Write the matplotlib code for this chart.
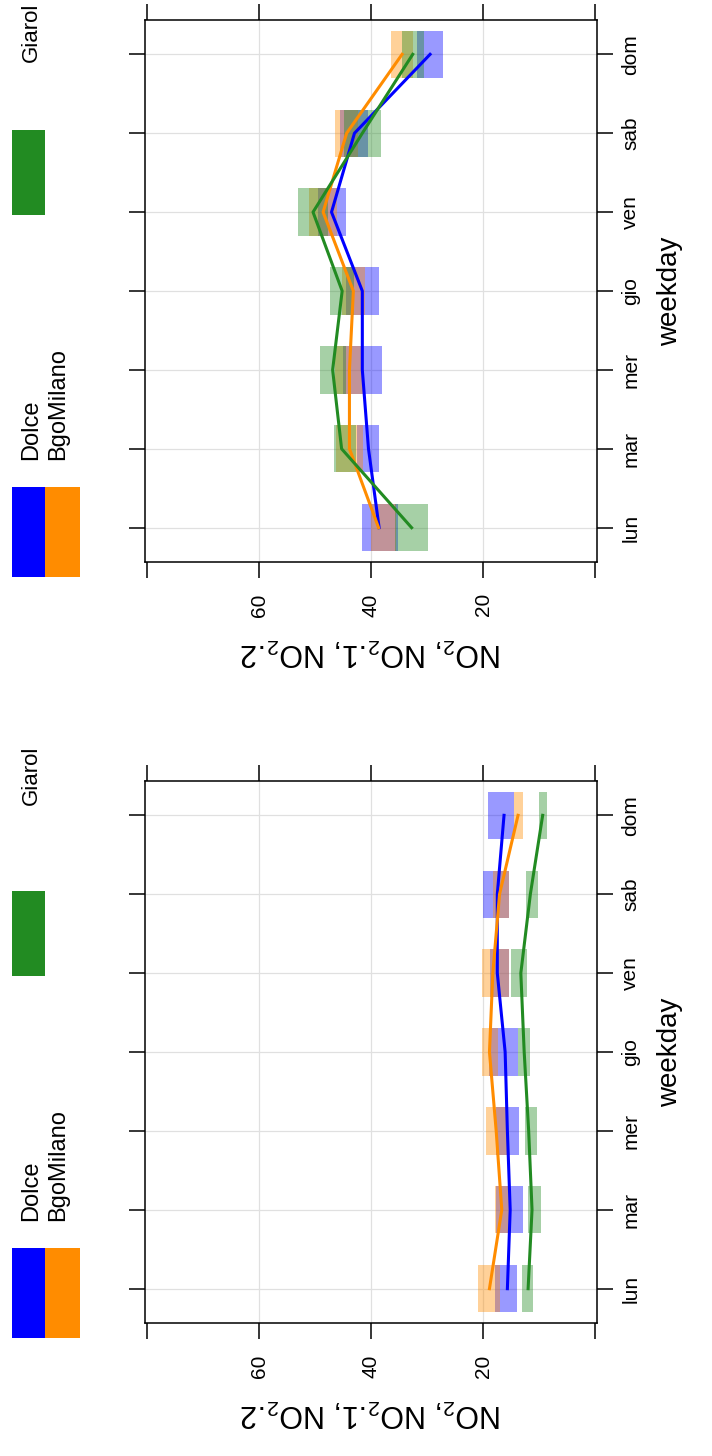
import matplotlib
matplotlib.use("Agg")
import matplotlib.pyplot as plt
from matplotlib.patches import Rectangle

plt.rcParams["font.family"] = ["Liberation Sans", "DejaVu Sans"]
plt.rcParams["mathtext.default"] = "regular"

# ---- data -------------------------------------------------------------
days = ["lun", "mar", "mer", "gio", "ven", "sab", "dom"]
sites = ["Dolce", "BgoMilano", "Giarol"]
site_colors = ["#0000FF", "#FF8C00", "#228B22"]

value_ticks = [0, 20, 40, 60, 80]
value_labels = ["", "20", "40", "60", ""]

# upper panel: NO2 weekday means and confidence bounds
up_dolce = [38.6, 40.5, 41.6, 41.6, 47.1, 43.0, 29.5]
up_dolce_lo = [35.2, 38.7, 38.1, 38.7, 44.6, 40.5, 27.2]
up_dolce_hi = [41.6, 42.6, 45.1, 44.5, 49.6, 45.5, 31.8]

up_bgo = [38.7, 43.9, 43.9, 43.2, 48.6, 44.4, 34.5]
up_bgo_lo = [35.6, 41.5, 41.4, 41.2, 46.1, 42.4, 32.5]
up_bgo_hi = [40.1, 46.3, 46.4, 45.2, 51.1, 46.4, 36.5]

up_giarol = [32.8, 45.3, 46.9, 45.2, 50.4, 41.6, 32.6]
up_giarol_lo = [29.8, 42.8, 44.6, 43.0, 47.8, 38.3, 30.6]
up_giarol_hi = [35.8, 46.7, 49.2, 47.4, 53.0, 44.9, 34.6]

# lower panel
lo_dolce = [15.7, 15.2, 15.7, 16.1, 17.5, 17.5, 16.3]
lo_dolce_lo = [14.0, 12.9, 13.7, 13.8, 15.5, 15.5, 14.6]
lo_dolce_hi = [18.0, 17.7, 17.7, 18.9, 18.8, 20.0, 19.1]

lo_bgo = [18.9, 16.7, 17.7, 18.9, 18.3, 17.1, 13.8]
lo_bgo_lo = [17.0, 15.2, 15.7, 17.4, 15.4, 15.4, 12.9]
lo_bgo_hi = [21.0, 17.9, 19.6, 20.2, 20.2, 18.3, 14.6]

lo_giarol = [12.0, 11.3, 11.9, 12.7, 13.3, 11.6, 9.4]
lo_giarol_lo = [11.1, 9.7, 10.5, 11.6, 12.2, 10.3, 8.7]
lo_giarol_hi = [13.1, 12.0, 12.6, 13.8, 15.1, 12.4, 10.1]

panels = [
    ([up_dolce, up_bgo, up_giarol],
     [up_dolce_lo, up_bgo_lo, up_giarol_lo],
     [up_dolce_hi, up_bgo_hi, up_giarol_hi]),
    ([lo_dolce, lo_bgo, lo_giarol],
     [lo_dolce_lo, lo_bgo_lo, lo_giarol_lo],
     [lo_dolce_hi, lo_bgo_hi, lo_giarol_hi]),
]

# ---- figure -----------------------------------------------------------
W, H = 712, 1456
fig = plt.figure(figsize=(W / 100, H / 100), dpi=100)


def fx(px):
    return px / W


def fy(py):
    return 1 - py / H


ax_left, ax_right = 145, 597
panel_tops = [20, 781]
panel_h = 542
giarol_bottoms = [62, 805]
day_pos = list(range(1, len(days) + 1))

for (means, lows, highs), top, g_bot in zip(panels, panel_tops, giarol_bottoms):
    ax = fig.add_axes([fx(ax_left), fy(top + panel_h),
                       fx(ax_right - ax_left), panel_h / H])
    ax.set_xlim(80.4, -0.3)
    ax.set_ylim(0.565, 7.435)

    for v in (20, 40, 60):
        ax.axvline(v, color="#E0E0E0", lw=0.9, zorder=0)
    for d in day_pos:
        ax.axhline(d, color="#E0E0E0", lw=0.9, zorder=0)

    for lo, hi, c in zip(lows, highs, site_colors):
        ax.barh(day_pos, [h - l for l, h in zip(lo, hi)], left=lo,
                height=0.6, color=c, alpha=0.4, lw=0, zorder=1)
    for m, c in zip(means, site_colors):
        ax.plot(m, day_pos, color=c, lw=2.2, zorder=2)

    for s in ax.spines.values():
        s.set_linewidth(1.1)
        s.set_color("black")

    ax.set_xticks(value_ticks)
    ax.set_xticklabels(value_labels, rotation=90, fontsize=15)
    ax.set_yticks(day_pos)
    ax.set_yticklabels(days, rotation=90, fontsize=15, va="center")
    ax.tick_params(axis="x", which="both", direction="out", length=11.5,
                   width=1.1, top=True, bottom=True, labeltop=False,
                   labelbottom=True, pad=11)
    ax.tick_params(axis="y", which="both", direction="out", length=11.5,
                   width=1.1, left=True, right=True, labelleft=False,
                   labelright=True, pad=6)

    ax.set_xlabel(r"NO$_2$, NO$_2$.1, NO$_2$.2", fontsize=22, rotation=180,
                  labelpad=14)
    ax.yaxis.set_label_position("right")
    ax.set_ylabel("weekday", fontsize=20, rotation=90, labelpad=12)

    # key: two rows of coloured boxes with site names
    off = top - 20
    boxes = [(12, 45, 487, 577, site_colors[0]),
             (45, 80, 487, 577, site_colors[1]),
             (12, 45, 130, 215, site_colors[2])]
    for x0, x1, y0, y1, c in boxes:
        fig.add_artist(Rectangle((fx(x0), fy(y1 + off)), fx(x1 - x0),
                                 (y1 - y0) / H, transform=fig.transFigure,
                                 color=c, lw=0))
    fig.text(fx(31), fy(460 + off), sites[0], rotation=90, ha="center",
             va="bottom", fontsize=17)
    fig.text(fx(58), fy(460 + off), sites[1], rotation=90, ha="center",
             va="bottom", fontsize=17)
    fig.text(fx(31), fy(g_bot), sites[2], rotation=90, ha="center",
             va="bottom", fontsize=16)

fig.savefig("out.png", dpi=100, facecolor="white")
